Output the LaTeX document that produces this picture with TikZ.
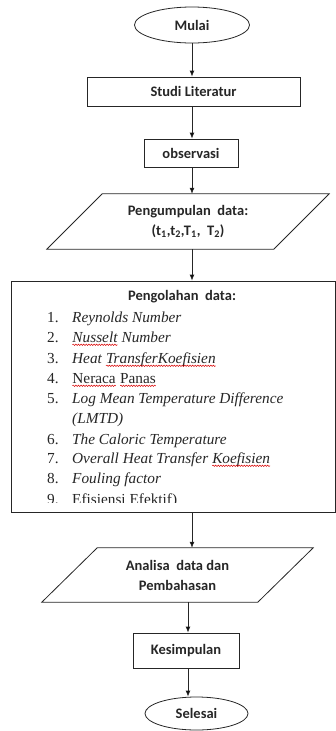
\documentclass[tikz,border=0pt]{standalone}
\usepackage{fontspec}
\setmainfont{Liberation Serif}
\newfontfamily\calfont{Carlito}
\usetikzlibrary{shapes.geometric,arrows.meta,decorations.pathmorphing}
\definecolor{ink}{HTML}{262626}
\newcommand\redwave[1]{\tikz[baseline=(w.base)]{\node[inner sep=0pt, outer sep=0pt] (w) {#1};
  \draw[red!85!black, line width=0.5pt, decorate, decoration={snake, amplitude=0.7pt, segment length=2.6pt}]
  ([yshift=-2.8pt]w.base west) -- ([yshift=-2.8pt]w.base east);}}
\tikzset{
  shp/.style={draw=ink, line width=0.8pt},
  sans/.style={font=\calfont\bfseries\fontsize{14.5}{20}\selectfont, text=ink},
  boxn/.style={shp, sans, rectangle, inner sep=0pt},
  term/.style={shp, sans, ellipse, inner sep=0pt},
  para/.style={sans, draw=none, rectangle, inner sep=0pt, align=center},
  arr/.style={draw=ink, line width=0.8pt, -{Latex[length=6pt,width=5pt]}},
  itm/.style={anchor=base west, inner sep=0pt, text=ink, font=\fontsize{15.3}{19}\selectfont},
}
\begin{document}
\begin{tikzpicture}[x=1pt,y=-1pt]
\useasboundingbox (0,0) rectangle (336,731);
\coordinate (ax) at (192,0);
\coordinate (bx) at (188,0);

\node[term, minimum width=115pt, minimum height=36pt] (mulai) at (192,25) {Mulai};
\node[boxn, minimum width=213pt, minimum height=29pt] (studi) at (193.5,91.5) {Studi Literatur};
\node[boxn, minimum width=94pt, minimum height=28pt] (obs) at (191,153) {observasi};

\node[para, minimum width=282pt, minimum height=55pt] (pg) at (188,221.5)
  {Pengumpulan\ \ data:\\(t\textsubscript{1},t\textsubscript{2},T\textsubscript{1}, \ T\textsubscript{2})};
\draw[shp] (pg.south west) -- ++(227,0) -- (pg.north east) -- ++(-227,0) -- cycle;

\node[shp, rectangle, minimum width=324pt, minimum height=231pt, inner sep=0pt] (box) at (173,396.5) {};
\node[sans, anchor=base, inner sep=0pt] (ttl) at (182,300) {Pengolahan\ \ data:};

\node[itm] (n1) at (47,322) {1.};
\node[itm] (t1) at (72,322) {\itshape Reynolds Number};
\node[itm] (n2) at (47,342) {2.};
\node[itm] (t2) at (72,342) {\itshape \redwave{Nusselt} Number};
\node[itm] (n3) at (47,363) {3.};
\node[itm] (t3) at (72,363) {\itshape Heat \redwave{TransferKoefisien}};
\node[itm] (n4) at (47,383) {4.};
\node[itm] (t4) at (72,383) {\redwave{Neraca} \redwave{Panas}};
\node[itm] (n5) at (47,403) {5.};
\node[itm] (t5) at (72,403) {\itshape Log Mean Temperature Difference};
\node[itm] (t5b) at (72,423) {\itshape (LMTD)};
\node[itm] (n6) at (47,444) {6.};
\node[itm] (t6) at (72,444) {\itshape The Caloric Temperature};
\node[itm] (n7) at (47,463) {7.};
\node[itm] (t7) at (72,463) {\itshape Overall Heat Transfer \redwave{Koefisien}};
\node[itm] (n8) at (47,483) {8.};
\node[itm] (t8) at (72,483) {\itshape Fouling factor};
\begin{scope}
  \clip (0,490) rectangle (336,502.5);
  \node[itm] (n9) at (47,504.5) {9.};
  \node[itm] (t9) at (72,504.5) {Efisiensi Efektif)};
\end{scope}

\node[para, minimum width=271pt, minimum height=54pt] (pg2) at (177.5,575)
  {Analisa\ \ data dan\\Pembahasan};
\draw[shp] (pg2.south west) -- ++(216,0) -- (pg2.north east) -- ++(-216,0) -- cycle;

\node[boxn, minimum width=106pt, minimum height=35pt] (kes) at (186,650.5) {Kesimpulan};
\node[term, minimum width=103pt, minimum height=33pt] (sel) at (196.5,713.5) {Selesai};

\draw[arr] (ax |- mulai.south) -- (ax |- studi.north);
\draw[arr] (ax |- studi.south) -- (ax |- obs.north);
\draw[arr] (ax |- obs.south) -- (ax |- pg.north);
\draw[arr] (ax |- pg.south) -- (ax |- box.north);
\draw[arr] (ax |- box.south) -- (ax |- pg2.north);
\draw[arr] (bx |- pg2.south) -- (bx |- kes.north);
\draw[arr] (bx |- kes.south) -- (bx |- sel.north);
\end{tikzpicture}
\end{document}
